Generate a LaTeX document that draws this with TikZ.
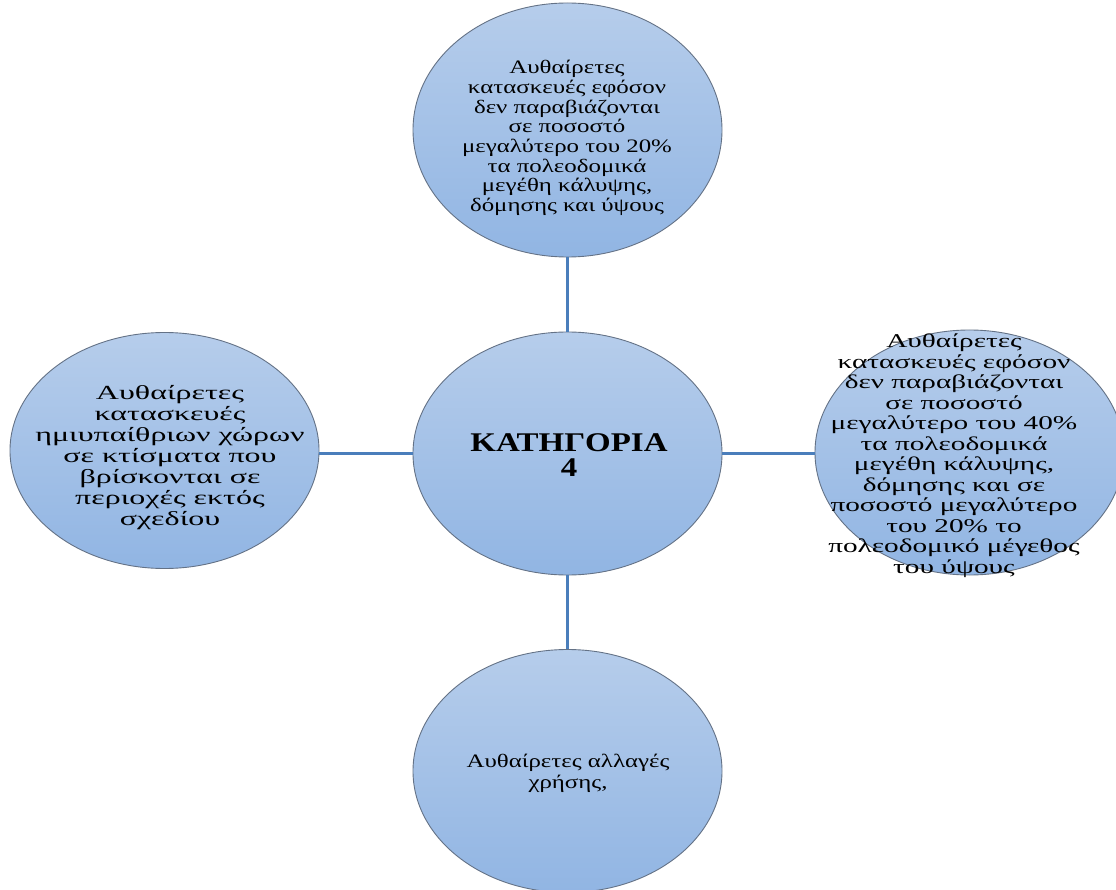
\documentclass[tikz,border=0pt]{standalone}
\usepackage{fontspec}
\setmainfont{Liberation Serif}
\newfontfamily\fTop{Liberation Serif}[FakeStretch=1.31]
\newfontfamily\fRight{Liberation Serif}[FakeStretch=1.5]
\newfontfamily\fLeft{Liberation Serif}[FakeStretch=1.6]
\newfontfamily\fCenter{Liberation Serif}[FakeStretch=1.22]
\usetikzlibrary{shapes.geometric}
\definecolor{ellTop}{RGB}{182,205,235}
\definecolor{ellBot}{RGB}{145,181,227}
\definecolor{ellLine}{RGB}{100,114,134}
\definecolor{conn}{RGB}{74,126,187}
\tikzset{
  bubble/.style={ellipse, draw=ellLine, line width=0.9pt, top color=ellTop, bottom color=ellBot,
    minimum width=309pt, minimum height=243pt, inner sep=0pt},
  bubbletext/.style={align=center, text=black, inner sep=0pt},
  conline/.style={draw=conn, line width=2.2pt}
}
\begin{document}
\begin{tikzpicture}[x=1pt,y=-1pt]
\useasboundingbox (0,0) rectangle (1116,890);
\fill[white] (0,0) rectangle (1116,890);
% ellipses
\node[bubble, minimum height=254pt] (top) at (567.5,130) {};
\node[bubble] (center) at (567.5,453.5) {};
\node[bubble, minimum height=236pt] (left) at (164.5,450.5) {};
\node[bubble, minimum height=245pt] (right) at (969.5,452.5) {};
\node[bubble] (bottom) at (567.5,771) {};
% connectors
\draw[conline] (top.south) -- (center.north);
\draw[conline] (center.south) -- (bottom.north);
\draw[conline] (left.east |- center.west) -- (center.west);
\draw[conline] (center.east) -- (right.west |- center.east);
% texts
\node[bubbletext, font=\fTop\fontsize{19pt}{19.7pt}\selectfont] (toptext) at (567,138) {Αυθαίρετες\\κατασκευές εφόσον\\δεν παραβιάζονται\\σε ποσοστό\\μεγαλύτερο του 20\%\\τα πολεοδομικά\\μεγέθη κάλυψης,\\δόμησης και ύψους};
\node[bubbletext, font=\fCenter\fontsize{27pt}{25pt}\selectfont\bfseries] (centertext) at (569,455) {ΚΑΤΗΓΟΡΙΑ\\4};
\node[bubbletext, font=\fLeft\fontsize{20pt}{21pt}\selectfont] (lefttext) at (170,457.5) {Αυθαίρετες\\κατασκευές\\ημιυπαίθριων χώρων\\σε κτίσματα που\\βρίσκονται σε\\περιοχές εκτός\\σχεδίου};
\node[bubbletext, font=\fRight\fontsize{19.5pt}{20.5pt}\selectfont] (righttext) at (954,455.5) {Αυθαίρετες\\κατασκευές εφόσον\\δεν παραβιάζονται\\σε ποσοστό\\μεγαλύτερο του 40\%\\τα πολεοδομικά\\μεγέθη κάλυψης,\\δόμησης και σε\\ποσοστό μεγαλύτερο\\του 20\% το\\πολεοδομικό μέγεθος\\του ύψους};
\node[bubbletext, font=\fTop\fontsize{19pt}{21pt}\selectfont] (bottomtext) at (568,773.5) {Αυθαίρετες αλλαγές\\χρήσης,};
\end{tikzpicture}
\end{document}
